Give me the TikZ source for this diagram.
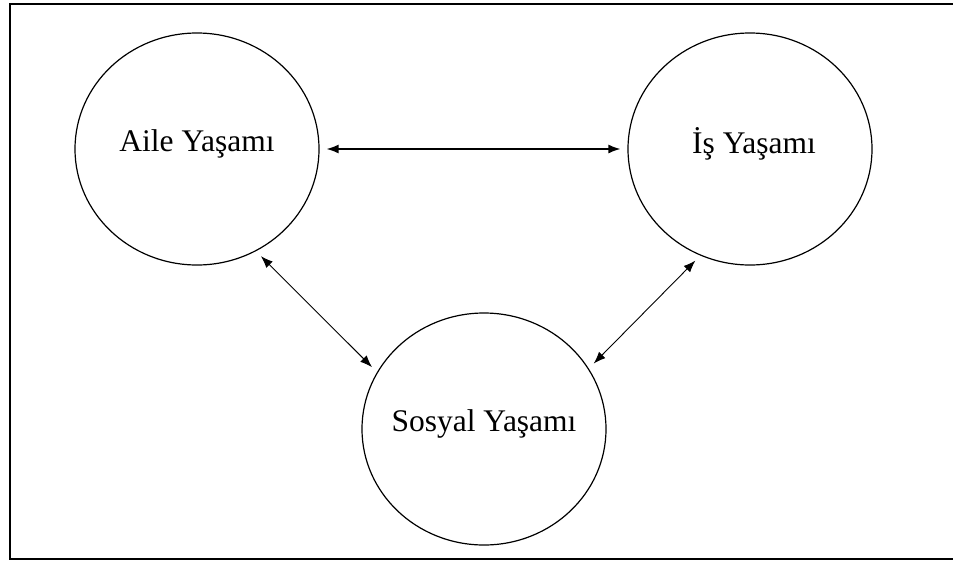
\documentclass[tikz,border=0pt]{standalone}
\usepackage{fontspec}
\setmainfont{Liberation Serif}
\usetikzlibrary{arrows.meta,shapes.geometric}

\begin{document}
\begin{tikzpicture}[x=1pt, y=-1pt,
    life/.style={draw, ellipse, line width=1.2pt, minimum width=244pt, minimum height=232pt,
      inner sep=0pt},
    lifetext/.style={font=\fontsize{31.5}{36}\selectfont},
    link/.style={{Latex[length=12pt,width=9pt]}-{Latex[length=12pt,width=9pt]}, line width=0.9pt, shorten <=7pt, shorten >=7pt}]
      \def\rowy{149}

      \useasboundingbox (0, 0) rectangle (953, 563) ;
      \draw[line width=2pt] (10, 4) rectangle (957, 559) ;

      \node[life] (aile) at (197, \rowy) {} ;
      \node[life] (is) at (750, \rowy) {} ;
      \node[life] (sosyal) at (484, 429) {} ;

      \node[lifetext] at ([yshift=5pt]aile.center) {Aile Yaşamı} ;
      \node[lifetext] at ([xshift=4pt, yshift=5pt]is.center) {İş Yaşamı} ;
      \node[lifetext] at ([yshift=5pt]sosyal.center) {Sosyal Yaşamı} ;

      \draw[link, line width=1.4pt] (aile.east) -- (is.west) ;
      \draw[link] (aile.-60.5) -- (sosyal.152.3) ;
      \draw[link] (is.-115.5) -- (sosyal.30.8) ;
    \end{tikzpicture}
\end{document}
